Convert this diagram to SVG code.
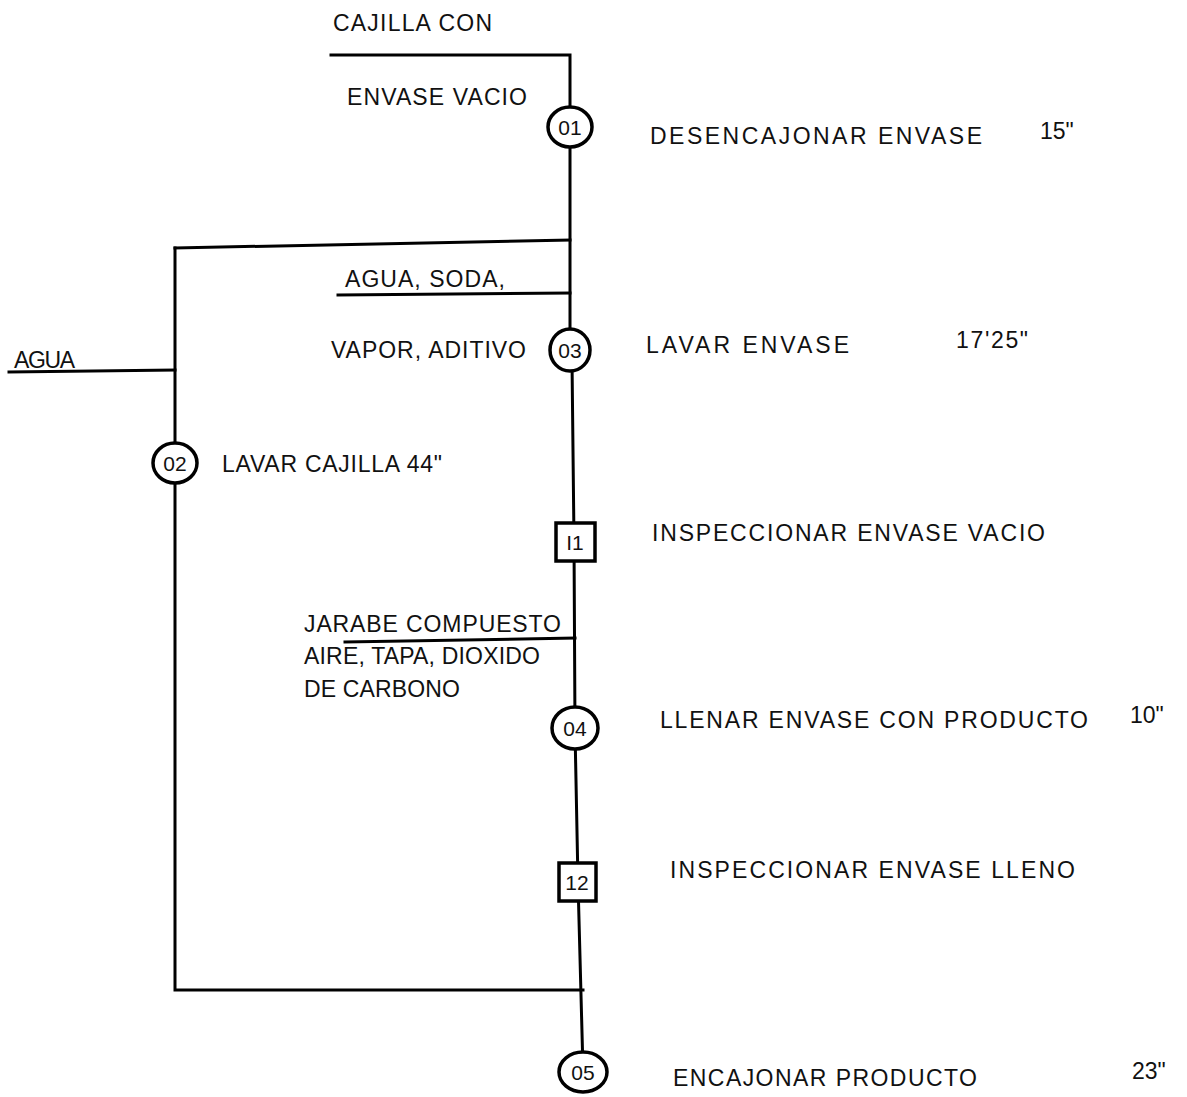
<svg xmlns="http://www.w3.org/2000/svg" width="1187" height="1097" viewBox="0 0 1187 1097">
<style>
.ln{stroke:#000;stroke-width:3;fill:none;stroke-linecap:square}
.nd{stroke:#000;stroke-width:3.5;fill:#fff}
.t{font-family:"Liberation Sans",Arial,sans-serif;font-size:23px;fill:#111}
.n{font-family:"Liberation Sans",Arial,sans-serif;font-size:21px;fill:#111;text-anchor:middle}
</style>
<rect width="1187" height="1097" fill="#fff"/>
<g id="connectors">
<path class="ln" d="M331,55 L570,55 L570,350"/>
<path class="ln" d="M175,248 L570,240"/>
<path class="ln" d="M338,295 L570,293"/>
<path class="ln" d="M175,248 L175,990 L583,990"/>
<path class="ln" d="M9,372 L175,370"/>
<path class="ln" d="M345,642 L575,638"/>
<path class="ln" d="M572,360 L574,540 L575,730 L578,882 L583,1070"/>
</g>
<g id="n01"><ellipse class="nd" cx="570" cy="127" rx="22" ry="20"/><text class="n" x="570" y="135">01</text></g>
<g id="n03"><ellipse class="nd" cx="570" cy="350" rx="20" ry="21"/><text class="n" x="570" y="358">03</text></g>
<g id="n02"><ellipse class="nd" cx="175" cy="463" rx="22" ry="20"/><text class="n" x="175" y="471">02</text></g>
<g id="i1"><rect class="nd" x="556" y="523" width="39" height="38"/><text class="n" x="575" y="550">I1</text></g>
<g id="n04"><ellipse class="nd" cx="575" cy="728" rx="23" ry="21"/><text class="n" x="575" y="736">04</text></g>
<g id="i2"><rect class="nd" x="559" y="863" width="37" height="38"/><text class="n" x="577" y="890">12</text></g>
<g id="n05"><ellipse class="nd" cx="583" cy="1072" rx="24" ry="20"/><text class="n" x="583" y="1080">05</text></g>
<g id="labels">
<text class="t" x="333" y="31" textLength="159">CAJILLA CON</text>
<text class="t" x="347" y="105" textLength="180">ENVASE VACIO</text>
<text class="t" x="650" y="144" textLength="332">DESENCAJONAR ENVASE</text>
<text class="t" x="1040" y="139">15"</text>
<text class="t" x="345" y="287" textLength="160">AGUA, SODA,</text>
<text class="t" x="331" y="358" textLength="195">VAPOR, ADITIVO</text>
<text class="t" x="646" y="353" textLength="203">LAVAR ENVASE</text>
<text class="t" x="956" y="348" textLength="72">17'25"</text>
<text class="t" x="14" y="368" textLength="61">AGUA</text>
<text class="t" x="222" y="472" textLength="220">LAVAR CAJILLA  44"</text>
<text class="t" x="652" y="541" textLength="393">INSPECCIONAR ENVASE VACIO</text>
<text class="t" x="304" y="632" textLength="257">JARABE COMPUESTO</text>
<text class="t" x="304" y="664" textLength="236">AIRE, TAPA, DIOXIDO</text>
<text class="t" x="304" y="697" textLength="156">DE CARBONO</text>
<text class="t" x="660" y="728" textLength="428">LLENAR ENVASE CON PRODUCTO</text>
<text class="t" x="1130" y="723">10"</text>
<text class="t" x="670" y="878" textLength="405">INSPECCIONAR ENVASE LLENO</text>
<text class="t" x="673" y="1086" textLength="304">ENCAJONAR PRODUCTO</text>
<text class="t" x="1132" y="1079">23"</text>
</g>
</svg>
